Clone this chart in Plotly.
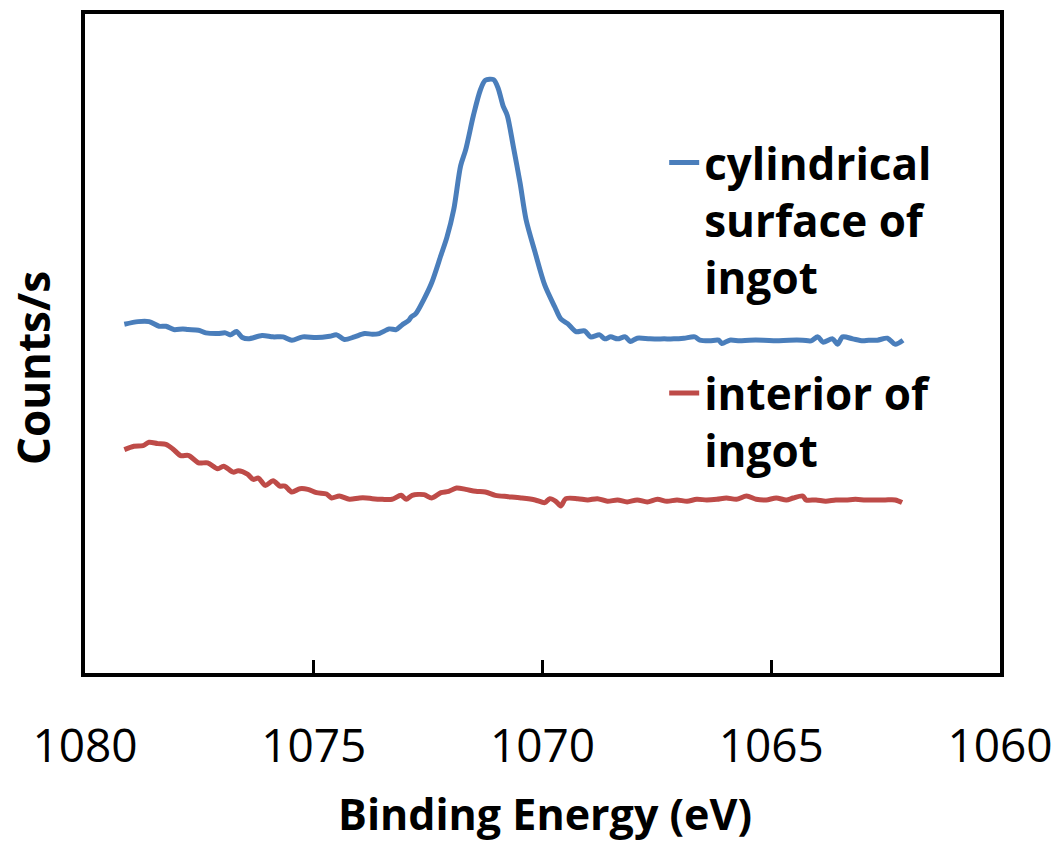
import plotly.graph_objects as go

# Binding energy (eV) and counts/s (arbitrary units)
surface_energy = [1079.14, 1078.84, 1078.60, 1078.38, 1078.23, 1078.06, 1077.86, 1077.75, 1077.52, 1077.36,
                  1077.10, 1076.93, 1076.82, 1076.69, 1076.56, 1076.43, 1076.13, 1075.89, 1075.67, 1075.48,
                  1075.24, 1074.94, 1074.65, 1074.50, 1074.33, 1074.11, 1073.89, 1073.72, 1073.57, 1073.35,
                  1073.20, 1073.07, 1072.92, 1072.87, 1072.77, 1072.59, 1072.42, 1072.22, 1072.09, 1071.94,
                  1071.79, 1071.68, 1071.51, 1071.36, 1071.25, 1071.07, 1070.97, 1070.86, 1070.77, 1070.64,
                  1070.49, 1070.36, 1070.16, 1069.95, 1069.73, 1069.60, 1069.45, 1069.27, 1069.08, 1068.95,
                  1068.75, 1068.64, 1068.51, 1068.36, 1068.19, 1068.08, 1067.93, 1067.65, 1067.34, 1067.13,
                  1066.91, 1066.67, 1066.56, 1066.35, 1066.15, 1066.08, 1065.91, 1065.69, 1065.48, 1065.17,
                  1064.89, 1064.61, 1064.31, 1064.13, 1063.98, 1063.87, 1063.66, 1063.55, 1063.44, 1063.22,
                  1063.00, 1062.87, 1062.68, 1062.46, 1062.29, 1062.12]
surface_counts = [529, 533, 533, 526, 526, 521, 522, 521, 520, 516,
                  515, 516, 513, 518, 509, 507, 512, 510, 510, 505,
                  510, 509, 511, 513, 506, 510, 515, 514, 515, 522,
                  521, 528, 535, 540, 545, 567, 592, 633, 660, 702,
                  768, 792, 844, 882, 897, 898, 885, 858, 844, 798,
                  742, 687, 637, 588, 555, 537, 530, 518, 519, 510,
                  513, 507, 510, 507, 510, 503, 508, 507, 507, 507,
                  508, 510, 505, 504, 505, 500, 505, 504, 505, 505,
                  504, 505, 505, 504, 510, 502, 507, 499, 510, 507,
                  504, 505, 505, 508, 499, 505]

interior_energy = [1079.14, 1078.93, 1078.73, 1078.60, 1078.41, 1078.23, 1078.08, 1077.91, 1077.73, 1077.52,
                   1077.32, 1077.10, 1076.97, 1076.76, 1076.65, 1076.45, 1076.32, 1076.21, 1076.06, 1075.89,
                   1075.74, 1075.63, 1075.48, 1075.30, 1075.13, 1074.94, 1074.72, 1074.61, 1074.44, 1074.22,
                   1074.00, 1073.85, 1073.72, 1073.50, 1073.29, 1073.09, 1072.98, 1072.85, 1072.59, 1072.42,
                   1072.22, 1072.05, 1071.88, 1071.68, 1071.46, 1071.25, 1071.03, 1070.75, 1070.47, 1070.16,
                   1069.95, 1069.84, 1069.71, 1069.60, 1069.49, 1069.23, 1069.01, 1068.80, 1068.58, 1068.36,
                   1068.15, 1067.93, 1067.71, 1067.49, 1067.28, 1067.06, 1066.84, 1066.63, 1066.41, 1066.19,
                   1065.98, 1065.76, 1065.54, 1065.33, 1065.11, 1064.89, 1064.67, 1064.52, 1064.31, 1064.24,
                   1064.02, 1063.81, 1063.59, 1063.37, 1063.16, 1062.94, 1062.72, 1062.51, 1062.29, 1062.14]
interior_counts = [340, 345, 346, 351, 349, 348, 341, 331, 331, 320,
                   320, 311, 315, 306, 308, 303, 295, 297, 286, 293,
                   285, 285, 276, 281, 280, 275, 273, 267, 270, 265,
                   267, 267, 266, 265, 265, 271, 265, 271, 272, 267,
                   275, 277, 282, 280, 277, 276, 271, 269, 267, 264,
                   260, 266, 262, 255, 266, 266, 264, 266, 262, 264,
                   261, 264, 261, 265, 262, 264, 262, 265, 264, 265,
                   267, 265, 270, 265, 264, 267, 264, 267, 270, 264,
                   264, 262, 264, 264, 265, 264, 264, 264, 264, 260]

series_names = ["cylindrical<br>surface of<br>ingot", "interior of<br>ingot"]
series_colors = ["#4A7EBB", "#BE4B48"]
x_ticks = [1080, 1075, 1070, 1065, 1060]

fig = go.Figure()
for i, (xs, ys) in enumerate([(surface_energy, surface_counts), (interior_energy, interior_counts)]):
    fig.add_trace(go.Scatter(
        x=xs, y=ys, mode="lines", name=series_names[i], legendgroup=f"g{i}",
        line=dict(color=series_colors[i], width=5, shape="spline", smoothing=0.8),
    ))

fig.update_layout(
    width=1063, height=846,
    margin=dict(l=85, r=60, t=10, b=173),
    paper_bgcolor="white", plot_bgcolor="white",
    font=dict(family="Open Sans", color="black"),
    showlegend=True,
    legend=dict(
        x=0.633, y=0.828, xanchor="left", yanchor="top",
        bgcolor="rgba(0,0,0,0)", valign="top", tracegroupgap=56,
        font=dict(family="Open Sans", size=44, weight="bold", color="black"),
    ),
    annotations=[
        dict(text="<b>Binding Energy (eV)</b>", xref="paper", yref="paper", x=0.503, y=-0.2135,
             xanchor="center", yanchor="middle", showarrow=False,
             font=dict(family="Open Sans", size=43, color="black")),
        dict(text="<b>Counts/s</b>", xref="paper", yref="paper", x=-0.0566, y=0.463,
             xanchor="center", yanchor="middle", showarrow=False, textangle=-90,
             font=dict(family="Open Sans", size=44, color="black")),
    ],
)
fig.update_xaxes(
    range=[1080, 1060], tickvals=x_ticks, ticktext=[str(t) for t in x_ticks],
    showgrid=False, zeroline=False,
    showline=True, linecolor="black", linewidth=4, mirror=True,
    ticks="inside", ticklen=13, tickwidth=2.5, tickcolor="black",
    tickfont=dict(family="Open Sans", size=46, color="black"),
    ticklabelstandoff=30,
)
fig.update_yaxes(
    range=[3, 997], showgrid=False, zeroline=False, showticklabels=False, ticks="",
    showline=True, linecolor="black", linewidth=4, mirror=True,
)

fig.write_html("out.html")
